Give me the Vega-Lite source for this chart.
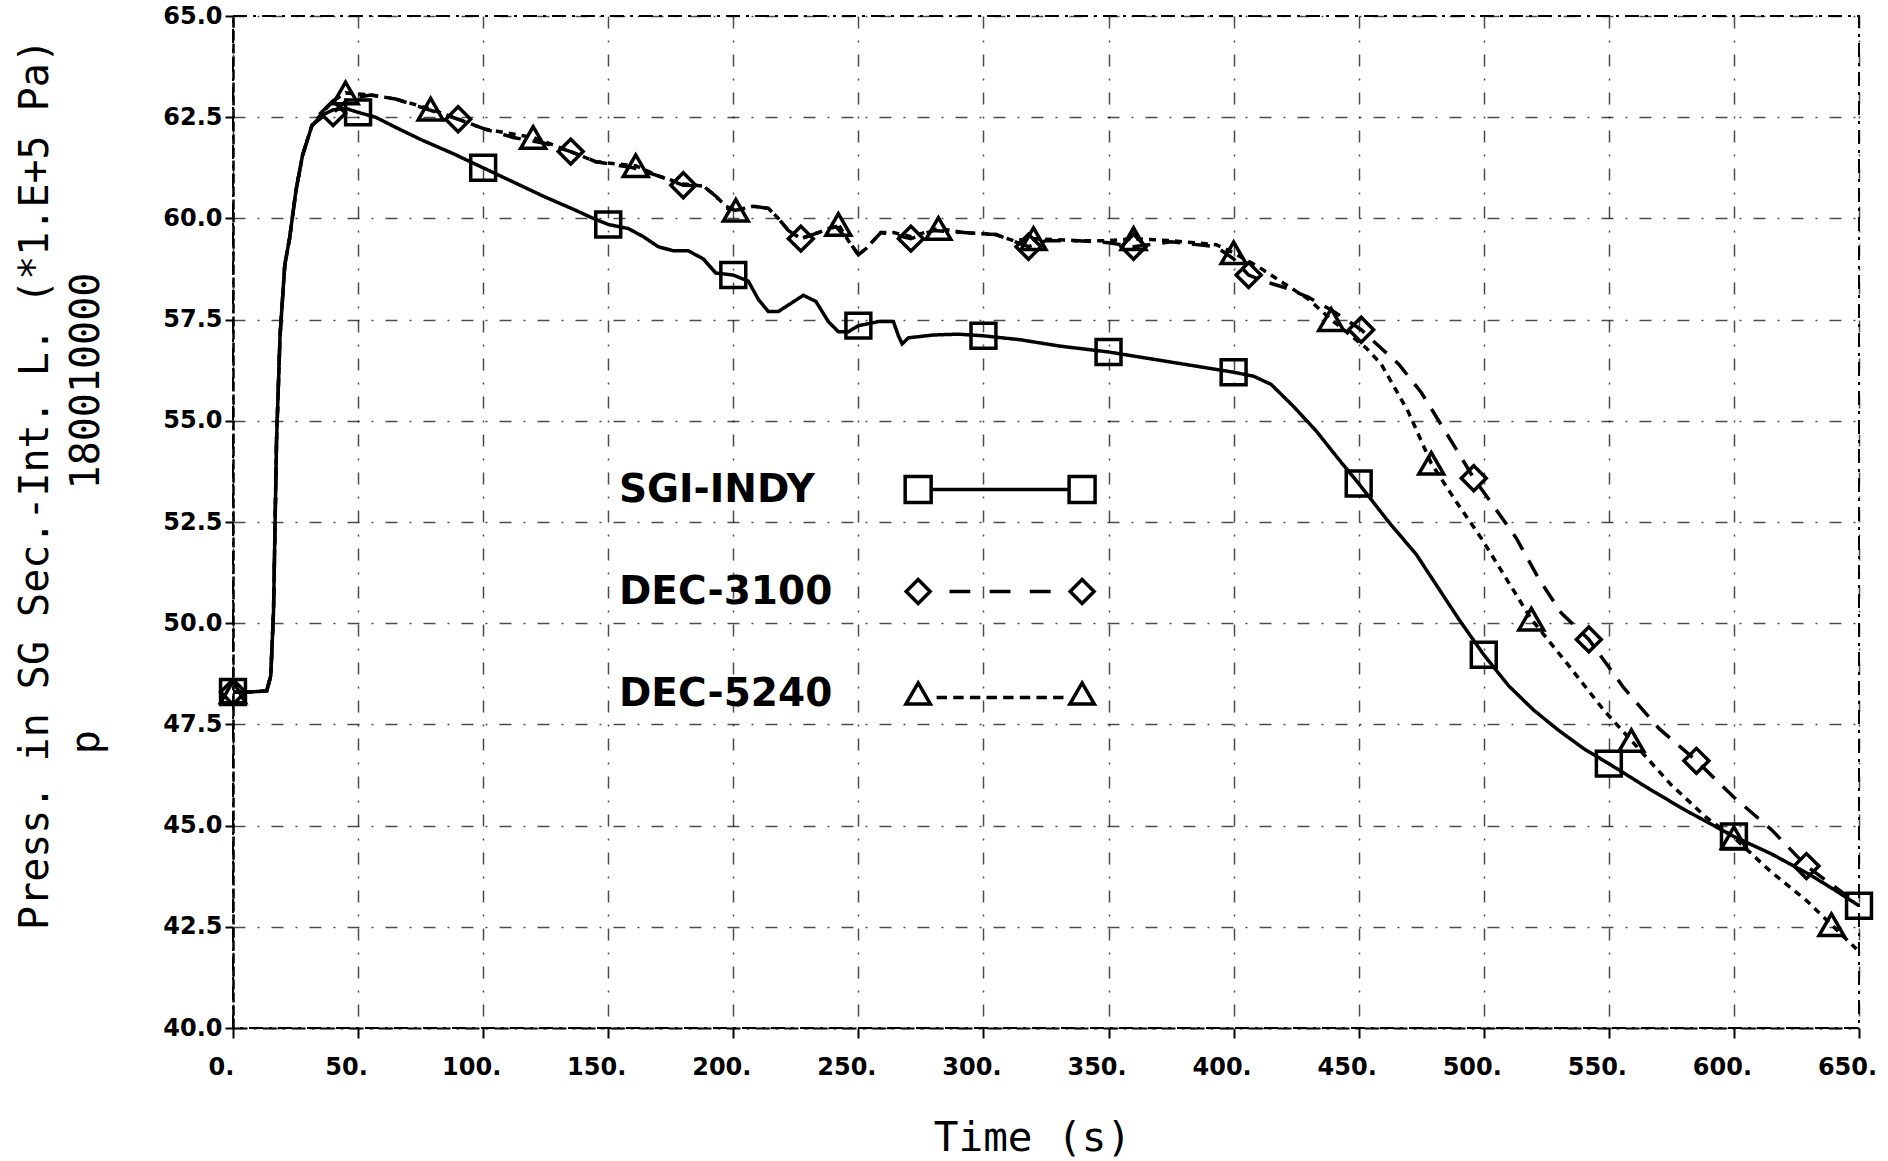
{
  "$schema": "https://vega.github.io/schema/vega-lite/v6.json",
  "width": 1626,
  "height": 1012,
  "autosize": {"type": "none"},
  "padding": {"left": 233, "top": 16, "right": 29, "bottom": 133},
  "background": "white",
  "datasets": {
    "curves": [
      {"series": "SGI-INDY", "t": 0, "p": 48.3, "mk": true},
      {"series": "SGI-INDY", "t": 7, "p": 48.3},
      {"series": "SGI-INDY", "t": 13.5, "p": 48.33},
      {"series": "SGI-INDY", "t": 15.1, "p": 48.7},
      {"series": "SGI-INDY", "t": 16.2, "p": 50.3},
      {"series": "SGI-INDY", "t": 17.4, "p": 54.5},
      {"series": "SGI-INDY", "t": 18.8, "p": 57.1},
      {"series": "SGI-INDY", "t": 20.7, "p": 58.85},
      {"series": "SGI-INDY", "t": 22.6, "p": 59.5},
      {"series": "SGI-INDY", "t": 25.2, "p": 60.7},
      {"series": "SGI-INDY", "t": 27.8, "p": 61.56},
      {"series": "SGI-INDY", "t": 31.6, "p": 62.3},
      {"series": "SGI-INDY", "t": 35.6, "p": 62.55},
      {"series": "SGI-INDY", "t": 40, "p": 62.68},
      {"series": "SGI-INDY", "t": 45, "p": 62.72},
      {"series": "SGI-INDY", "t": 50, "p": 62.62, "mk": true},
      {"series": "SGI-INDY", "t": 57, "p": 62.5},
      {"series": "SGI-INDY", "t": 65, "p": 62.25},
      {"series": "SGI-INDY", "t": 75, "p": 61.95},
      {"series": "SGI-INDY", "t": 88, "p": 61.6},
      {"series": "SGI-INDY", "t": 100, "p": 61.25, "mk": true},
      {"series": "SGI-INDY", "t": 112, "p": 60.9},
      {"series": "SGI-INDY", "t": 124, "p": 60.55},
      {"series": "SGI-INDY", "t": 137, "p": 60.2},
      {"series": "SGI-INDY", "t": 144, "p": 60.0},
      {"series": "SGI-INDY", "t": 150, "p": 59.85, "mk": true},
      {"series": "SGI-INDY", "t": 158, "p": 59.75},
      {"series": "SGI-INDY", "t": 164, "p": 59.55},
      {"series": "SGI-INDY", "t": 170, "p": 59.3},
      {"series": "SGI-INDY", "t": 176, "p": 59.2},
      {"series": "SGI-INDY", "t": 182, "p": 59.2},
      {"series": "SGI-INDY", "t": 188, "p": 59.0},
      {"series": "SGI-INDY", "t": 193, "p": 58.65},
      {"series": "SGI-INDY", "t": 200, "p": 58.6, "mk": true},
      {"series": "SGI-INDY", "t": 206, "p": 58.45},
      {"series": "SGI-INDY", "t": 210, "p": 58.0},
      {"series": "SGI-INDY", "t": 214, "p": 57.7},
      {"series": "SGI-INDY", "t": 218, "p": 57.7},
      {"series": "SGI-INDY", "t": 223, "p": 57.9},
      {"series": "SGI-INDY", "t": 228, "p": 58.1},
      {"series": "SGI-INDY", "t": 233, "p": 57.95},
      {"series": "SGI-INDY", "t": 238, "p": 57.45},
      {"series": "SGI-INDY", "t": 242, "p": 57.2},
      {"series": "SGI-INDY", "t": 246, "p": 57.2},
      {"series": "SGI-INDY", "t": 250, "p": 57.35, "mk": true},
      {"series": "SGI-INDY", "t": 258, "p": 57.45},
      {"series": "SGI-INDY", "t": 264, "p": 57.45},
      {"series": "SGI-INDY", "t": 266, "p": 57.1},
      {"series": "SGI-INDY", "t": 267.5, "p": 56.9},
      {"series": "SGI-INDY", "t": 270, "p": 57.05},
      {"series": "SGI-INDY", "t": 280, "p": 57.12},
      {"series": "SGI-INDY", "t": 290, "p": 57.14},
      {"series": "SGI-INDY", "t": 300, "p": 57.1, "mk": true},
      {"series": "SGI-INDY", "t": 315, "p": 57.0},
      {"series": "SGI-INDY", "t": 330, "p": 56.85},
      {"series": "SGI-INDY", "t": 350, "p": 56.7, "mk": true},
      {"series": "SGI-INDY", "t": 370, "p": 56.5},
      {"series": "SGI-INDY", "t": 390, "p": 56.3},
      {"series": "SGI-INDY", "t": 400, "p": 56.2, "mk": true},
      {"series": "SGI-INDY", "t": 408, "p": 56.1},
      {"series": "SGI-INDY", "t": 415, "p": 55.9},
      {"series": "SGI-INDY", "t": 424, "p": 55.35},
      {"series": "SGI-INDY", "t": 433, "p": 54.75},
      {"series": "SGI-INDY", "t": 442, "p": 54.05},
      {"series": "SGI-INDY", "t": 450, "p": 53.45, "mk": true},
      {"series": "SGI-INDY", "t": 462, "p": 52.5},
      {"series": "SGI-INDY", "t": 473, "p": 51.7},
      {"series": "SGI-INDY", "t": 490, "p": 50.1},
      {"series": "SGI-INDY", "t": 500, "p": 49.22, "mk": true},
      {"series": "SGI-INDY", "t": 510, "p": 48.45},
      {"series": "SGI-INDY", "t": 520, "p": 47.85},
      {"series": "SGI-INDY", "t": 530, "p": 47.35},
      {"series": "SGI-INDY", "t": 540, "p": 46.9},
      {"series": "SGI-INDY", "t": 550, "p": 46.53, "mk": true},
      {"series": "SGI-INDY", "t": 565, "p": 45.95},
      {"series": "SGI-INDY", "t": 580, "p": 45.4},
      {"series": "SGI-INDY", "t": 600, "p": 44.73, "mk": true},
      {"series": "SGI-INDY", "t": 615, "p": 44.3},
      {"series": "SGI-INDY", "t": 630, "p": 43.8},
      {"series": "SGI-INDY", "t": 640, "p": 43.42},
      {"series": "SGI-INDY", "t": 650, "p": 43.02, "mk": true},

      {"series": "DEC-3100", "t": 0, "p": 48.3, "mk": true},
      {"series": "DEC-3100", "t": 7, "p": 48.3},
      {"series": "DEC-3100", "t": 13.5, "p": 48.33},
      {"series": "DEC-3100", "t": 15.1, "p": 48.7},
      {"series": "DEC-3100", "t": 16.2, "p": 50.3},
      {"series": "DEC-3100", "t": 17.4, "p": 54.5},
      {"series": "DEC-3100", "t": 18.8, "p": 57.1},
      {"series": "DEC-3100", "t": 20.7, "p": 58.85},
      {"series": "DEC-3100", "t": 22.6, "p": 59.5},
      {"series": "DEC-3100", "t": 25.2, "p": 60.7},
      {"series": "DEC-3100", "t": 27.8, "p": 61.56},
      {"series": "DEC-3100", "t": 31.6, "p": 62.3},
      {"series": "DEC-3100", "t": 35.6, "p": 62.5},
      {"series": "DEC-3100", "t": 40, "p": 62.6, "mk": true},
      {"series": "DEC-3100", "t": 46, "p": 62.95},
      {"series": "DEC-3100", "t": 55, "p": 63.05},
      {"series": "DEC-3100", "t": 65, "p": 62.95},
      {"series": "DEC-3100", "t": 75, "p": 62.75},
      {"series": "DEC-3100", "t": 90, "p": 62.45, "mk": true},
      {"series": "DEC-3100", "t": 101, "p": 62.2},
      {"series": "DEC-3100", "t": 112, "p": 62.0},
      {"series": "DEC-3100", "t": 125, "p": 61.85},
      {"series": "DEC-3100", "t": 135, "p": 61.65, "mk": true},
      {"series": "DEC-3100", "t": 145, "p": 61.4},
      {"series": "DEC-3100", "t": 160, "p": 61.25},
      {"series": "DEC-3100", "t": 170, "p": 61.05},
      {"series": "DEC-3100", "t": 180, "p": 60.82, "mk": true},
      {"series": "DEC-3100", "t": 188, "p": 60.8},
      {"series": "DEC-3100", "t": 193, "p": 60.55},
      {"series": "DEC-3100", "t": 197, "p": 60.25},
      {"series": "DEC-3100", "t": 201, "p": 60.2},
      {"series": "DEC-3100", "t": 208, "p": 60.3},
      {"series": "DEC-3100", "t": 214, "p": 60.25},
      {"series": "DEC-3100", "t": 218, "p": 60.0},
      {"series": "DEC-3100", "t": 222, "p": 59.7},
      {"series": "DEC-3100", "t": 227, "p": 59.5, "mk": true},
      {"series": "DEC-3100", "t": 234, "p": 59.65},
      {"series": "DEC-3100", "t": 241, "p": 59.8},
      {"series": "DEC-3100", "t": 246, "p": 59.45},
      {"series": "DEC-3100", "t": 250, "p": 59.1},
      {"series": "DEC-3100", "t": 253, "p": 59.25},
      {"series": "DEC-3100", "t": 259, "p": 59.65},
      {"series": "DEC-3100", "t": 264, "p": 59.6},
      {"series": "DEC-3100", "t": 271, "p": 59.5, "mk": true},
      {"series": "DEC-3100", "t": 280, "p": 59.7},
      {"series": "DEC-3100", "t": 292, "p": 59.65},
      {"series": "DEC-3100", "t": 305, "p": 59.6},
      {"series": "DEC-3100", "t": 318, "p": 59.3, "mk": true},
      {"series": "DEC-3100", "t": 325, "p": 59.45},
      {"series": "DEC-3100", "t": 338, "p": 59.45},
      {"series": "DEC-3100", "t": 350, "p": 59.4},
      {"series": "DEC-3100", "t": 360, "p": 59.3, "mk": true},
      {"series": "DEC-3100", "t": 375, "p": 59.42},
      {"series": "DEC-3100", "t": 393, "p": 59.3},
      {"series": "DEC-3100", "t": 400, "p": 59.0},
      {"series": "DEC-3100", "t": 406, "p": 58.6, "mk": true},
      {"series": "DEC-3100", "t": 412, "p": 58.45},
      {"series": "DEC-3100", "t": 420, "p": 58.3},
      {"series": "DEC-3100", "t": 430, "p": 58.05},
      {"series": "DEC-3100", "t": 440, "p": 57.7},
      {"series": "DEC-3100", "t": 451, "p": 57.25, "mk": true},
      {"series": "DEC-3100", "t": 458, "p": 56.85},
      {"series": "DEC-3100", "t": 466, "p": 56.4},
      {"series": "DEC-3100", "t": 475, "p": 55.7},
      {"series": "DEC-3100", "t": 483, "p": 54.9},
      {"series": "DEC-3100", "t": 490, "p": 54.2},
      {"series": "DEC-3100", "t": 496, "p": 53.58, "mk": true},
      {"series": "DEC-3100", "t": 505, "p": 52.8},
      {"series": "DEC-3100", "t": 513, "p": 52.1},
      {"series": "DEC-3100", "t": 522, "p": 51.1},
      {"series": "DEC-3100", "t": 531, "p": 50.25},
      {"series": "DEC-3100", "t": 542, "p": 49.6, "mk": true},
      {"series": "DEC-3100", "t": 556, "p": 48.4},
      {"series": "DEC-3100", "t": 570, "p": 47.4},
      {"series": "DEC-3100", "t": 585, "p": 46.6, "mk": true},
      {"series": "DEC-3100", "t": 600, "p": 45.7},
      {"series": "DEC-3100", "t": 615, "p": 44.9},
      {"series": "DEC-3100", "t": 629, "p": 44.0, "mk": true},
      {"series": "DEC-3100", "t": 640, "p": 43.5},
      {"series": "DEC-3100", "t": 650, "p": 43.05},

      {"series": "DEC-5240", "t": 0, "p": 48.3, "mk": true},
      {"series": "DEC-5240", "t": 7, "p": 48.3},
      {"series": "DEC-5240", "t": 13.5, "p": 48.33},
      {"series": "DEC-5240", "t": 15.1, "p": 48.7},
      {"series": "DEC-5240", "t": 16.2, "p": 50.3},
      {"series": "DEC-5240", "t": 17.4, "p": 54.5},
      {"series": "DEC-5240", "t": 18.8, "p": 57.1},
      {"series": "DEC-5240", "t": 20.7, "p": 58.85},
      {"series": "DEC-5240", "t": 22.6, "p": 59.5},
      {"series": "DEC-5240", "t": 25.2, "p": 60.7},
      {"series": "DEC-5240", "t": 27.8, "p": 61.56},
      {"series": "DEC-5240", "t": 31.6, "p": 62.3},
      {"series": "DEC-5240", "t": 35.6, "p": 62.6},
      {"series": "DEC-5240", "t": 40, "p": 62.9},
      {"series": "DEC-5240", "t": 45, "p": 63.1, "mk": true},
      {"series": "DEC-5240", "t": 55, "p": 63.05},
      {"series": "DEC-5240", "t": 65, "p": 62.95},
      {"series": "DEC-5240", "t": 79, "p": 62.7, "mk": true},
      {"series": "DEC-5240", "t": 90, "p": 62.45},
      {"series": "DEC-5240", "t": 101, "p": 62.2},
      {"series": "DEC-5240", "t": 120, "p": 62.0, "mk": true},
      {"series": "DEC-5240", "t": 135, "p": 61.65},
      {"series": "DEC-5240", "t": 145, "p": 61.4},
      {"series": "DEC-5240", "t": 161, "p": 61.3, "mk": true},
      {"series": "DEC-5240", "t": 170, "p": 61.05},
      {"series": "DEC-5240", "t": 180, "p": 60.85},
      {"series": "DEC-5240", "t": 188, "p": 60.8},
      {"series": "DEC-5240", "t": 193, "p": 60.55},
      {"series": "DEC-5240", "t": 197, "p": 60.3},
      {"series": "DEC-5240", "t": 201, "p": 60.2, "mk": true},
      {"series": "DEC-5240", "t": 208, "p": 60.3},
      {"series": "DEC-5240", "t": 214, "p": 60.25},
      {"series": "DEC-5240", "t": 218, "p": 60.0},
      {"series": "DEC-5240", "t": 222, "p": 59.7},
      {"series": "DEC-5240", "t": 227, "p": 59.5},
      {"series": "DEC-5240", "t": 234, "p": 59.65},
      {"series": "DEC-5240", "t": 242, "p": 59.85, "mk": true},
      {"series": "DEC-5240", "t": 246, "p": 59.45},
      {"series": "DEC-5240", "t": 250, "p": 59.1},
      {"series": "DEC-5240", "t": 253, "p": 59.25},
      {"series": "DEC-5240", "t": 259, "p": 59.65},
      {"series": "DEC-5240", "t": 264, "p": 59.65},
      {"series": "DEC-5240", "t": 271, "p": 59.55},
      {"series": "DEC-5240", "t": 282, "p": 59.75, "mk": true},
      {"series": "DEC-5240", "t": 292, "p": 59.65},
      {"series": "DEC-5240", "t": 305, "p": 59.6},
      {"series": "DEC-5240", "t": 312, "p": 59.45},
      {"series": "DEC-5240", "t": 320, "p": 59.5, "mk": true},
      {"series": "DEC-5240", "t": 338, "p": 59.45},
      {"series": "DEC-5240", "t": 350, "p": 59.45},
      {"series": "DEC-5240", "t": 360, "p": 59.5, "mk": true},
      {"series": "DEC-5240", "t": 375, "p": 59.45},
      {"series": "DEC-5240", "t": 393, "p": 59.35},
      {"series": "DEC-5240", "t": 400, "p": 59.15, "mk": true},
      {"series": "DEC-5240", "t": 410, "p": 58.8},
      {"series": "DEC-5240", "t": 420, "p": 58.4},
      {"series": "DEC-5240", "t": 430, "p": 58.0},
      {"series": "DEC-5240", "t": 439, "p": 57.5, "mk": true},
      {"series": "DEC-5240", "t": 447, "p": 57.1},
      {"series": "DEC-5240", "t": 453, "p": 56.8},
      {"series": "DEC-5240", "t": 459, "p": 56.4},
      {"series": "DEC-5240", "t": 465, "p": 55.75},
      {"series": "DEC-5240", "t": 470, "p": 55.2},
      {"series": "DEC-5240", "t": 479, "p": 53.95, "mk": true},
      {"series": "DEC-5240", "t": 489, "p": 53.0},
      {"series": "DEC-5240", "t": 499, "p": 52.1},
      {"series": "DEC-5240", "t": 508, "p": 51.2},
      {"series": "DEC-5240", "t": 519, "p": 50.1, "mk": true},
      {"series": "DEC-5240", "t": 534, "p": 48.95},
      {"series": "DEC-5240", "t": 548, "p": 47.85},
      {"series": "DEC-5240", "t": 559, "p": 47.1, "mk": true},
      {"series": "DEC-5240", "t": 575, "p": 46.0},
      {"series": "DEC-5240", "t": 589, "p": 45.2},
      {"series": "DEC-5240", "t": 600, "p": 44.7, "mk": true},
      {"series": "DEC-5240", "t": 615, "p": 43.85},
      {"series": "DEC-5240", "t": 629, "p": 43.15},
      {"series": "DEC-5240", "t": 639, "p": 42.55, "mk": true},
      {"series": "DEC-5240", "t": 649, "p": 41.95}
    ]
  },
  "data": {"name": "curves"},
  "encoding": {
    "x": {
      "field": "t",
      "type": "quantitative",
      "scale": {"domain": [0, 650], "nice": false, "zero": false},
      "axis": {
        "values": [0, 50, 100, 150, 200, 250, 300, 350, 400, 450, 500, 550, 600, 650],
        "labelExpr": "datum.value + '.'",
        "labelFlush": false,
        "labelOverlap": false,
        "labelFont": "DejaVu Sans",
        "labelFontWeight": "bold",
        "labelFontSize": 24,
        "labelColor": "black",
        "labelPadding": 17,
        "labelOffset": -12,
        "tickSize": 10,
        "tickColor": "black",
        "tickWidth": 2,
        "domainColor": "black",
        "domainWidth": 2,
        "domainDash": [14, 6, 3, 6],
        "grid": true,
        "gridColor": "black",
        "gridWidth": 1.5,
        "gridOpacity": 0.7,
        "gridDash": [12, 12, 2, 12],
        "title": "Time (s)",
        "titleFont": "DejaVu Sans Mono",
        "titleFontSize": 41,
        "titleFontWeight": "normal",
        "titleColor": "black",
        "titleAlign": "center",
        "titleBaseline": "alphabetic",
        "titleX": 799,
        "titleY": 122
      }
    },
    "y": {
      "field": "p",
      "type": "quantitative",
      "scale": {"domain": [40, 65], "nice": false, "zero": false},
      "axis": {
        "values": [40, 42.5, 45, 47.5, 50, 52.5, 55, 57.5, 60, 62.5, 65],
        "format": ".1f",
        "labelFlush": false,
        "labelOverlap": false,
        "labelFont": "DejaVu Sans",
        "labelFontWeight": "bold",
        "labelFontSize": 24,
        "labelColor": "black",
        "labelPadding": 3,
        "tickSize": 8,
        "tickColor": "black",
        "tickWidth": 2,
        "domainColor": "black",
        "domainWidth": 2.5,
        "domainDash": [10, 3],
        "grid": true,
        "gridColor": "black",
        "gridWidth": 1.5,
        "gridOpacity": 0.7,
        "gridDash": [12, 12, 2, 12],
        "title": ["Press. in SG Sec.-Int. L. (*1.E+5 Pa)", "p\u00a0\u00a0\u00a0\u00a0\u00a0\u00a0\u00a0\u00a0\u00a0\u00a0180010000\u2800\u2800"],
        "titleFont": "DejaVu Sans Mono",
        "titleFontSize": 40,
        "titleFontWeight": "normal",
        "titleColor": "black",
        "titleAngle": -90,
        "titleAlign": "center",
        "titleBaseline": "alphabetic",
        "titleLineHeight": 51,
        "titleX": -186,
        "titleY": 468
      }
    }
  },
  "layer": [
    {
      "mark": {"type": "line", "color": "black", "strokeWidth": 3.5, "strokeCap": "butt"},
      "encoding": {
        "strokeDash": {
          "field": "series",
          "type": "nominal",
          "scale": {
            "domain": ["SGI-INDY", "DEC-3100", "DEC-5240"],
            "range": [[1, 0], [18, 12], [7, 6]]
          },
          "legend": null
        }
      }
    },
    {
      "transform": [{"filter": "datum.mk"}],
      "mark": {"type": "point", "filled": false, "color": "black", "strokeWidth": 3.5, "size": 620, "opacity": 1},
      "encoding": {
        "shape": {
          "field": "series",
          "type": "nominal",
          "scale": {
            "domain": ["SGI-INDY", "DEC-3100", "DEC-5240"],
            "range": ["square", "diamond", "triangle-up"]
          },
          "legend": null
        }
      }
    },
    {
      "transform": [{"filter": "datum.mk"}],
      "mark": {"type": "point", "filled": false, "color": "black", "strokeWidth": 3, "opacity": 0},
      "encoding": {
        "shape": {
          "field": "series",
          "type": "nominal",
          "scale": {
            "domain": ["SGI-INDY", "DEC-3100", "DEC-5240"],
            "range": [
              "M23.82,-1L25.82,-1L25.82,1L23.82,1Z M25.82,0L36.43,0 M36.43,-1L38.43,-1L38.43,1L36.43,1Z",
              "M24.82,-0.92L25.74,0L24.82,0.92L23.9,0Z M27.23,0L28.83,0 M30.32,0L31.92,0 M33.41,0L35.01,0 M37.43,-0.92L38.35,0L37.43,0.92L36.51,0Z",
              "M24.82,-0.815L25.76,0.815L23.88,0.815Z M26.24,0.3L27.04,0.3 M27.52,0.3L28.32,0.3 M28.8,0.3L29.6,0.3 M30.08,0.3L30.88,0.3 M31.36,0.3L32.16,0.3 M32.64,0.3L33.44,0.3 M33.92,0.3L34.72,0.3 M35.2,0.3L36.0,0.3 M37.43,-0.815L38.37,0.815L36.49,0.815Z"
            ]
          },
          "legend": {
            "title": null,
            "orient": "none",
            "direction": "vertical",
            "legendX": 343,
            "legendY": 454,
            "padding": 0,
            "rowPadding": 62,
            "symbolSize": 676,
            "symbolStrokeWidth": 3.5,
            "symbolStrokeColor": "black",
            "symbolFillColor": "transparent",
            "symbolOpacity": 1,
            "labelFont": "DejaVu Sans",
            "labelFontWeight": "bold",
            "labelFontSize": 39,
            "labelColor": "black",
            "labelOffset": 4,
            "labelLimit": 400
          }
        }
      }
    }
  ],
  "resolve": {"scale": {"shape": "independent"}, "legend": {"shape": "independent"}},
  "config": {
    "view": {"stroke": "black", "strokeWidth": 2, "strokeDash": [14, 6, 3, 6]},
    "font": "DejaVu Sans"
  }
}
